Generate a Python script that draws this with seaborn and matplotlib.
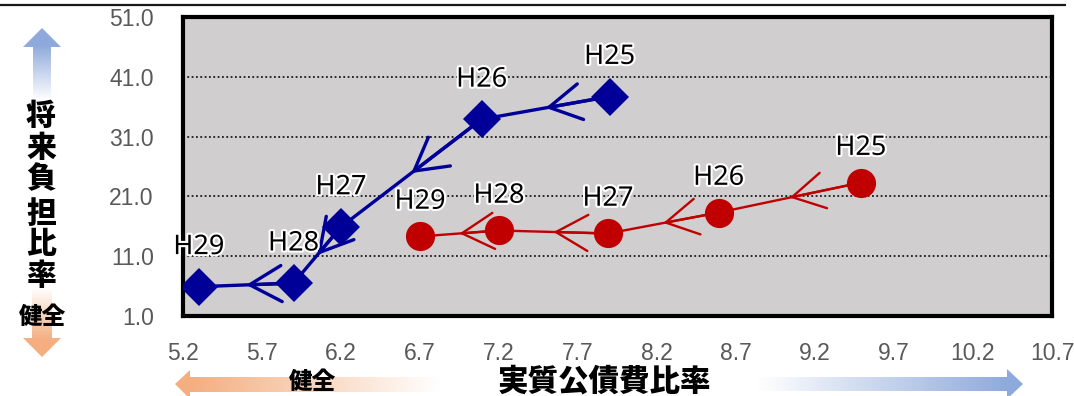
import numpy as np
import pandas as pd
import matplotlib
matplotlib.use("Agg")
import matplotlib.pyplot as plt
from matplotlib.patches import Polygon
import matplotlib.patheffects as pe
import seaborn as sns

# Fiscal years (oldest -> newest) and the two trajectories
years = ["H25", "H26", "H27", "H28", "H29"]
navy_debt_service = [7.90, 7.09, 6.20, 5.90, 5.30]    # 実質公債費比率
navy_future_burden = [37.7, 33.9, 15.9, 6.5, 5.9]     # 将来負担比率
red_debt_service = [9.49, 8.59, 7.89, 7.20, 6.70]
red_future_burden = [23.3, 18.3, 14.8, 15.3, 14.3]

x_ticks = [5.2, 5.7, 6.2, 6.7, 7.2, 7.7, 8.2, 8.7, 9.2, 9.7, 10.2, 10.7]
y_ticks = [1.0, 11.0, 21.0, 31.0, 41.0, 51.0]

sns.set_style("white")
CJK = ["Noto Sans CJK JP", "DejaVu Sans"]
NUM = ["Liberation Sans", "DejaVu Sans"]
LABEL_FONT = ["Noto Sans", "DejaVu Sans"]

W, H = 1074, 396
fig = plt.figure(figsize=(W / 100, H / 100), dpi=100)
fig.patch.set_facecolor("white")

# Overlay in pixel coordinates for the decorative arrows and axis titles
ov = fig.add_axes([0, 0, 1, 1], zorder=0)
ov.set_axis_off()
ov.patch.set_alpha(0)


def gradient_arrow(verts, color, axis, start, end):
    poly = Polygon(verts, closed=True, facecolor="none", edgecolor="none")
    ov.add_patch(poly)
    xs = [v[0] for v in verts]
    ys = [v[1] for v in verts]
    x0, x1, y0, y1 = min(xs), max(xs), min(ys), max(ys)
    rgb = np.array(matplotlib.colors.to_rgb(color))
    white = np.ones(3)
    if axis == "x":
        c = np.linspace(x0, x1, 400)
        t = np.clip((c - start) / (end - start), 0, 1)[:, None]
        img = (white * (1 - t) + rgb * t)[None, :, :]
    else:
        c = np.linspace(y0, y1, 400)
        t = np.clip((c - start) / (end - start), 0, 1)[:, None]
        img = (white * (1 - t) + rgb * t)[:, None, :]
    im = ov.imshow(img, extent=(x0, x1, y1, y0), origin="upper",
                   aspect="auto", interpolation="bilinear")
    im.set_clip_path(poly)


BLUE_A = "#8EA9DB"
ORANGE_A = "#F4AE80"

# vertical axis: up (worse) / down (healthy)
gradient_arrow([(42, 28), (61, 47), (51, 47), (51, 100), (33, 100), (33, 47), (23, 47)],
               BLUE_A, "y", 100, 45)
gradient_arrow([(32, 288), (52, 288), (52, 338), (61, 338), (42, 357), (23, 338), (32, 338)],
               ORANGE_A, "y", 288, 340)
# horizontal axis: left (healthy) / right (worse)
gradient_arrow([(175, 384), (190, 370), (190, 377), (440, 377), (440, 392), (190, 392), (190, 399)],
               ORANGE_A, "x", 440, 190)
gradient_arrow([(758, 377), (1007, 377), (1007, 369), (1023, 384), (1007, 399), (1007, 391), (758, 391)],
               BLUE_A, "x", 758, 1010)

# rule along the top edge
ov.plot([0, 1066], [5, 5], color="#1a1a1a", lw=1.6, solid_capstyle="butt")

# vertical title, one character per line
for ch, yc in zip("将来負担比率", [115, 147, 179, 213, 244, 275]):
    ov.text(41, yc, ch, ha="center", va="center", fontsize=21.5,
            fontweight="heavy", family=CJK, color="black")
ov.text(43, 317, "健全", ha="center", va="center", fontsize=17,
        fontweight="heavy", family=CJK, color="black")
ov.text(313, 382, "健全", ha="center", va="center", fontsize=17,
        fontweight="heavy", family=CJK, color="black")
ov.text(605, 381, "実質公債費比率", ha="center", va="center", fontsize=22,
        fontweight="heavy", family=CJK, color="black")

ov.set_xlim(0, W)
ov.set_ylim(H, 0)

# Main scatter-path axes
ax = fig.add_axes([183 / W, 1 - 316 / H, (1052 - 183) / W, (316 - 17) / H], zorder=1)
ax.set_facecolor("#D0CECF")

navy = pd.DataFrame({"year": years, "x": navy_debt_service, "y": navy_future_burden})
red = pd.DataFrame({"year": years, "x": red_debt_service, "y": red_future_burden})

series = [
    (navy, "#000099", 2.4, "D", 19.5, 28.5),
    (red, "#C00000", 1.7, "o", 21, 25),
]
for df, col, lw, mk, ms, dy in series:
    sns.lineplot(data=df, x="x", y="y", sort=False, estimator=None, ax=ax,
                 color=col, lw=lw, marker=mk, markersize=ms,
                 markeredgewidth=0, zorder=4)
    xs, ys = df["x"].to_numpy(), df["y"].to_numpy()
    for i in range(len(xs) - 1):
        mid = ((xs[i] + xs[i + 1]) / 2, (ys[i] + ys[i + 1]) / 2)
        ax.annotate("", xy=mid, xytext=(xs[i], ys[i]), zorder=3,
                    arrowprops=dict(arrowstyle="->,head_length=2.3,head_width=1.3",
                                    color=col, lw=lw, shrinkA=0, shrinkB=0,
                                    mutation_scale=10))
    for lab, x, y in zip(df["year"], xs, ys):
        ax.annotate(lab, (x, y), xytext=(0, dy), textcoords="offset points",
                    ha="center", va="center", fontsize=19.5, family=LABEL_FONT,
                    color="black", zorder=5,
                    path_effects=[pe.withStroke(linewidth=3, foreground="white")])

ax.set_xlim(x_ticks[0], x_ticks[-1])
ax.set_ylim(y_ticks[0], y_ticks[-1])
ax.set_xticks(x_ticks)
ax.set_yticks(y_ticks)
ax.set_xticklabels([f"{v:.1f}" for v in x_ticks])
ax.set_yticklabels([f"{v:.1f}" for v in y_ticks])
ax.set_xlabel("")
ax.set_ylabel("")
ax.tick_params(axis="both", length=0, labelsize=16.5, labelcolor="#595959")
ax.tick_params(axis="x", pad=19)
ax.tick_params(axis="y", pad=21)
for lab in ax.get_xticklabels() + ax.get_yticklabels():
    lab.set_family(NUM)

for yv in y_ticks[1:-1]:
    ax.axhline(yv, color="#1a1a1a", lw=1.3, ls=(0, (1, 1.4)), zorder=1)
for sp in ax.spines.values():
    sp.set_visible(True)
    sp.set_color("black")
    sp.set_linewidth(3)

fig.savefig("out.png", dpi=100)
